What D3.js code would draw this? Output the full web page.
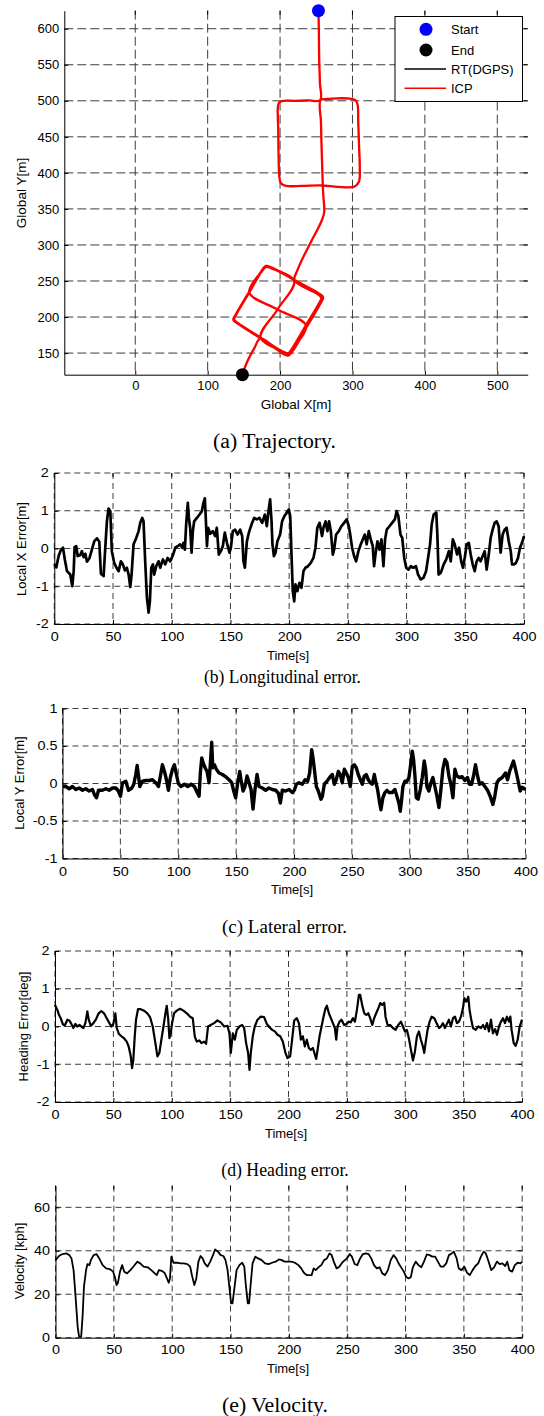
<!DOCTYPE html>
<html><head><meta charset="utf-8">
<script src="https://cdn.jsdelivr.net/npm/d3@7"></script>
<style>body{margin:0;background:#fff}svg{display:block}</style>
</head><body>
<svg id="chart" width="544" height="1416"></svg>
<script>
// ---------------- DATA ----------------
// (a) trajectory [Global X, Global Y] in metres
const trajectory = [
[253,625],[253.5,600],[254,560],[255,525],[255.5,501],
[240,500.5],[220,500],[205,500],[199,498],[197,492],
[197.5,460],[198,420],[199,395],[201,386],[208,382],
[230,382],[258,382.5],[275,381],[290,380],[303,381],[309,388],
[310,410],[309,440],[308,470],[307,495],[304,501],[297,503],
[280,503.5],[265,502.5],[256,501],
[256.5,470],[257.5,430],[258.5,400],[259,382],[260,365],[261,346],
[258,335],[251,320],[244,307],[237,293],[230,279],[224,265],[220,251],
[251,232.4],[257,226.5],[254.2,219.9],[235,187.5],[215.8,155.1],[211,149.5],[203.4,151.9],[173,171.5],[142.6,191.1],[136.5,196.5],[139.5,203.6],[157.5,234],[175.5,264.4],[181,269.5],[187.9,267.6],[219.5,250],
[196.5,210.5],[173,171.5],
[203,152.5],[211.5,150],[216.5,155.5],[236,188],
[196.5,210.5],[157.5,234],
[176,265],[181.5,270.5],[188.5,268.5],[220,251],[252,233.5],[258.5,227],[255.5,219.5],[236.5,187.5],[217,154],[211.5,148],[203,150.5],[173,170.5],[142,190.5],[135.5,196],[139,204],[157,234.5],[175,265],[180.5,271],[188,268.5],[220.5,251],
[253,233],[259.5,227.5],[256,219],[237,186.5],[217.5,153],[211,146.5],[202.5,150],[173,170.5],
[165,158],[156,141],[148,121]
];
const startPoint = [253, 625];
const endPoint = [148, 120];
const legendLabels = ["Start", "End", "RT(DGPS)", "ICP"];
const trajXTicks = [0, 100, 200, 300, 400, 500];
const trajYTicks = [150, 200, 250, 300, 350, 400, 450, 500, 550, 600];

// (b) longitudinal error [time s, error m]
const longitudinalError = [
[0,-0.42],[1.7,-0.5],[3.7,-0.2],[5.7,-0.03],[7.4,0.02],[9,-0.3],[10.8,-0.6],[13.6,-0.69],[15.3,-1.0],[16.5,-0.6],[17.3,0.04],[18.7,0.06],[19.9,-0.2],[22,-0.18],[23.5,-0.07],[25,-0.23],[26.4,-0.14],[27.8,-0.35],[30,-0.25],[32,-0.03],[34,0.19],[36.3,0.27],[38.3,0.18],[39.7,-0.67],[42,-0.73],[43.4,0.02],[44.8,0.72],[46.2,1.06],[47.7,0.99],[49,-0.07],[51,-0.38],[53.3,-0.53],[54.8,-0.6],[56.7,-0.34],[58.4,-0.42],[60.1,-0.58],[61.8,-0.51],[63.3,-0.69],[64.7,-1.02],[65.8,-0.69],[67.5,0.11],[69.8,0.28],[71.8,0.46],[73.2,0.68],[74.9,0.81],[76,0.72],[77.4,-0.34],[78.9,-1.31],[80.3,-1.7],[81.4,-1.4],[82.6,-0.51],[84,-0.42],[85.1,-0.69],[86.8,-0.47],[88.8,-0.34],[90.2,-0.51],[92.5,-0.29],[94.5,-0.42],[96.5,-0.25],[98.7,-0.34],[101,-0.18],[103,0.02],[105,0.06],[107.2,0.11],[109,0.02],[110,0.15],[111.2,-0.03],[112.3,0.64],[113.7,1.21],[114.6,0.81],[115.7,0.55],[116.9,-0.11],[118,0.46],[119.1,0.72],[121.4,0.81],[123.7,0.9],[125.7,0.99],[127,1.21],[128.2,1.33],[129,0.81],[130,0.06],[131,0.55],[132.8,0.39],[135,0.46],[137,0.33],[138.4,0.55],[140.1,-0.16],[141.8,-0.07],[143.5,0.06],[145.2,0.42],[147,0.15],[149.2,-0.11],[150.4,0.02],[152,0.46],[154,0.5],[156,0.37],[158.3,0.5],[160,0.33],[161.1,-0.34],[162.3,-0.51],[164,0.19],[165.7,0.42],[168,0.64],[170.2,0.81],[172.5,0.77],[174.7,0.81],[177,0.68],[179.3,0.9],[181,0.59],[182.4,0.99],[183.8,1.3],[185,0.72],[185.8,0.11],[187,-0.2],[188.4,-0.11],[190,0.19],[192.3,0.37],[194,0.72],[196,0.86],[198,0.95],[199.7,1.03],[200.9,0.86],[202,-0.16],[203.1,-1.13],[204.3,-1.4],[205.4,-0.95],[207,-1.13],[208.8,-0.91],[210.5,-1.04],[212.2,-0.6],[213.9,-0.51],[216,-0.47],[218.4,-0.38],[220.7,-0.25],[222.4,0.02],[224,0.55],[225.9,0.68],[228,0.33],[229.2,0.55],[231,0.72],[232.6,0.46],[234,0.72],[235.5,0.46],[237.2,-0.16],[238.3,-0.03],[240,0.37],[242.3,0.46],[244.5,0.59],[246.8,0.68],[249,0.77],[250.8,0.59],[252,0.37],[253.6,0.02],[255.3,-0.2],[257,-0.34],[259,-0.07],[261,0.11],[262.7,0.24],[264.4,0.37],[266,0.11],[267.8,0.46],[269.5,0.24],[271.2,0.06],[272.3,-0.47],[273.5,-0.16],[275.2,0.19],[276.9,-0.03],[278.6,0.24],[280.3,-0.47],[281.7,0.24],[283.1,0.5],[285.4,0.59],[287.7,0.68],[290,0.77],[291.6,0.99],[293,0.86],[294.8,0.37],[296.3,0.28],[298,-0.25],[299.7,-0.51],[301.6,-0.56],[303.6,-0.47],[305.8,-0.51],[308,-0.47],[309.8,-0.69],[312,-0.82],[314.3,-0.78],[316.6,-0.6],[318.3,-0.25],[320,0.11],[321.4,0.64],[323.1,0.9],[325.3,0.95],[326.2,0.37],[327.3,-0.69],[329.2,-0.64],[331.6,-0.42],[333.8,-0.29],[336,-0.07],[337.6,-0.34],[339.4,0.24],[341,0.11],[343,-0.16],[344.7,0.02],[346.5,-0.34],[348,-0.51],[349.5,-0.25],[351.2,0.11],[353,0.15],[354.6,-0.16],[356.3,-0.42],[358,-0.6],[359.7,-0.34],[361.4,-0.25],[363,-0.34],[364.8,-0.2],[366.5,-0.07],[368.2,-0.56],[370,-0.16],[371.6,0.28],[373.3,0.5],[375,0.68],[376.7,0.72],[378.4,0.59],[380.1,-0.11],[381.8,0.37],[383.5,0.5],[385.2,0.55],[387,0.19],[388.7,-0.07],[389.8,-0.42],[391.5,-0.42],[393.2,-0.38],[394.9,-0.25],[396.6,0.02],[398.3,0.15],[400,0.33]
];

// (c) lateral error [time s, error m]
const lateralError = [
[0,-0.04],[2.9,-0.04],[5.8,-0.07],[8.6,-0.04],[11.5,-0.08],[14.4,-0.06],[17.3,-0.09],[20.1,-0.07],[23,-0.1],[25.9,-0.08],[27.6,-0.15],[29.4,-0.19],[31.1,-0.09],[34.5,-0.09],[37.4,-0.07],[40.3,-0.09],[43.2,-0.06],[46,-0.06],[48.3,-0.1],[50.1,-0.17],[51.8,0.01],[54.7,0.03],[57,-0.09],[59.9,-0.06],[61.6,-0.01],[63.3,0.12],[64.5,0.24],[65.6,0.11],[66.8,-0.04],[69.1,0.03],[71.9,0.04],[74.8,0.04],[77.7,0.05],[80.6,0.01],[82.9,-0.04],[84.6,0.1],[86.3,0.25],[88.1,0.16],[89.8,0.05],[91.5,-0.09],[93.2,0.08],[95,0.19],[96.7,0.25],[98.4,0.12],[100.1,0],[102.4,-0.04],[105.3,-0.01],[108.2,-0.04],[111.1,-0.01],[114,-0.04],[116.3,-0.12],[118,-0.17],[119.1,0.14],[120.3,0.34],[121.4,0.28],[123.2,0.21],[124.9,0.16],[126.6,0.01],[127.8,0.28],[128.9,0.55],[129.8,0.21],[131.2,0.25],[132.9,0.19],[135.3,0.14],[138.1,0.12],[141,0.09],[143.9,0.05],[146.2,0.01],[147.9,-0.1],[149.6,-0.19],[151.4,0.01],[153.1,0.16],[154.2,0.05],[156,-0.1],[157.7,-0.04],[159.4,0.1],[161.2,0.01],[162.9,-0.08],[164.6,-0.34],[166.3,-0.08],[168.1,0.12],[169.8,-0.04],[172.7,-0.06],[175.5,-0.09],[178.4,-0.06],[181.3,-0.08],[184.2,-0.09],[186.5,-0.13],[188.2,-0.26],[189.9,-0.09],[192.8,-0.1],[195.7,-0.08],[198.6,-0.12],[200.3,-0.09],[202,-0.01],[204.3,0.01],[207.2,-0.01],[209.5,0.05],[211.8,0.03],[213.5,0.14],[215.3,0.45],[216.4,0.34],[217.6,0.19],[219.3,-0.04],[221,-0.1],[223.3,-0.21],[224.5,-0.17],[226.2,-0.01],[228.5,0.03],[230.8,0.08],[233.1,0.12],[234.8,-0.01],[236.5,0.05],[238.3,0.16],[240,0.12],[241.7,0.01],[243.5,0.19],[245.2,0.14],[246.9,0.08],[248.6,-0.04],[250.4,0.23],[252.1,0.25],[253.8,0.21],[255.5,0.12],[257.3,0.05],[259,-0.01],[260.7,0.1],[262.4,0.12],[264.2,0.05],[265.9,0.01],[267.6,-0.01],[269.4,0.12],[270.5,0.03],[272.2,-0.08],[274,-0.26],[275.1,-0.35],[276.8,-0.19],[278.6,-0.12],[280.3,-0.09],[282,-0.12],[284.9,-0.12],[287.2,-0.08],[288.9,-0.17],[290.6,-0.26],[291.8,-0.37],[293,-0.21],[294.1,-0.04],[295.8,0.03],[297.6,0.03],[299.3,0.08],[301,0.28],[302.2,0.43],[303.3,0.32],[304.5,0.1],[305.6,-0.19],[307.3,-0.21],[309.1,-0.08],[310.8,0.08],[312.5,0.3],[313.7,0.19],[314.8,-0.04],[316.5,-0.1],[318.3,0.01],[320,0.08],[321.7,-0.04],[323.5,-0.17],[325.2,-0.32],[326.9,-0.08],[328.6,0.19],[330.4,0.32],[332.1,0.28],[333.8,0.1],[335.5,-0.01],[337.3,-0.19],[339,0.19],[340.7,0.1],[343,0.08],[345.3,0.09],[347.6,0.04],[349.9,0.08],[351.7,-0.01],[353.4,-0.01],[355.1,0.1],[356.8,0.25],[358.6,0.1],[360.3,-0.01],[362.6,0.01],[364.9,-0.04],[367.2,-0.09],[369.5,-0.17],[371.8,-0.28],[373.5,-0.17],[375.3,0.01],[377,0.05],[379.9,0.08],[382.7,0.14],[384.5,0.05],[386.2,0.16],[387.9,0.23],[389.6,0.3],[391.4,0.19],[393.7,0.03],[395.4,-0.1],[397.1,-0.05],[400,-0.08]
];

// (d) heading error [time s, error deg]
const headingError = [
[0,0.57],[2,0.44],[3.4,0.31],[4.9,0.22],[6.6,0.07],[8.3,0.02],[10.6,0.18],[12.3,0.16],[14,0.07],[15.7,-0.04],[17.4,0.07],[19.1,0],[20.9,0.04],[22.6,0],[24.3,-0.04],[26,0.09],[27.7,0.4],[28.9,0.18],[30.6,0.02],[32.9,0.09],[35.1,0.19],[37.4,0.35],[39.7,0.41],[42,0.35],[44.3,0.22],[46.6,0.09],[48.3,0],[50,0.07],[51.7,0.35],[52.9,-0.04],[54.6,-0.19],[56.9,-0.26],[59.1,-0.31],[61.4,-0.4],[63.1,-0.53],[64.9,-0.79],[66,-1.1],[67.1,-0.88],[68.3,-0.26],[69.4,0.18],[71.1,0.46],[73.4,0.46],[76.3,0.42],[79.1,0.35],[81.4,0.25],[83.7,0],[86,-0.44],[87.7,-0.79],[89.4,-0.7],[91.1,-0.35],[92.9,0],[94.6,0.35],[95.7,0.55],[96.9,0.22],[98,-0.31],[99.1,-0.18],[100.3,0.09],[102,0.35],[104.3,0.42],[107.1,0.47],[110,0.42],[112.9,0.35],[115.7,0.26],[118,0.22],[119.7,-0.26],[121.4,-0.4],[123.7,-0.37],[125.4,-0.44],[127.7,-0.4],[129.4,-0.46],[131.1,0],[133.4,0.04],[136.3,0.09],[139.1,0.16],[142,0.11],[144.9,0],[147.7,0.02],[149.4,-0.18],[150.6,-0.7],[152.3,-0.18],[154,-0.35],[155.7,-0.09],[158,0],[160.3,0.04],[162,-0.04],[163.7,-0.44],[165.4,-0.7],[166.6,-1.15],[167.7,-0.7],[169.4,-0.26],[171.1,0],[173.4,0.18],[176.3,0.26],[179.1,0.25],[181.4,0.07],[183.7,-0.02],[186,-0.09],[188.3,-0.13],[190.6,-0.22],[192.9,-0.26],[195.1,-0.4],[197.4,-0.7],[199.1,-0.84],[201.4,-0.79],[203.1,-0.35],[204.9,0.16],[207.1,0.22],[208.9,0.09],[210.6,-0.35],[212.3,-0.26],[214,-0.53],[215.7,-0.35],[217.4,-0.57],[219.1,-0.62],[220.9,-0.57],[222.6,-0.75],[223.7,-0.86],[224.9,-0.62],[226.6,-0.26],[228.3,0],[230,0.26],[231.7,0.48],[232.9,0.55],[234.6,0.35],[236.3,0.22],[238,0.09],[239.7,-0.04],[240.9,-0.35],[242,0],[243.7,0.13],[245.4,0.18],[247.7,0.04],[250,0.07],[251.7,0.13],[253.4,0.11],[255.1,0.22],[256.9,0.13],[258.6,0.44],[260.3,0.84],[261.4,0.84],[263.1,0.57],[264.9,0.35],[266.6,0.31],[268.3,0.35],[270,0.22],[271.7,0.04],[273.4,0.22],[275.1,0.35],[276.9,0.48],[278.6,0.62],[280.3,0.57],[282,0.63],[283.1,0.26],[284.9,0.04],[287.1,0.04],[289.4,-0.04],[291.7,-0.09],[294,0.04],[296.3,0.13],[298,0],[299.7,-0.13],[301.4,-0.09],[303.1,-0.31],[304.9,-0.62],[306.6,-0.9],[308.3,-0.66],[310,-0.26],[311.7,-0.13],[313.4,-0.35],[315.1,-0.53],[316.3,-0.7],[317.4,-0.44],[319.1,-0.09],[320.9,0.13],[322.6,0.26],[324.9,0.22],[327.1,0.07],[328.9,-0.04],[330.6,0],[332.3,0.09],[334,-0.04],[335.7,0.07],[337.4,0.18],[339.1,0],[340.9,0.22],[342.6,0.26],[344.3,0.09],[346,0.13],[347.7,0.26],[349.4,0.48],[350.6,0.75],[352.3,0.66],[354,0.79],[355.1,0.44],[356.3,0.22],[358,-0.04],[360.3,-0.09],[362.6,0],[364.9,-0.04],[366.6,0.04],[368.3,-0.07],[370,0.09],[371.7,-0.13],[373.4,0.18],[375.1,-0.18],[376.9,-0.07],[378.6,-0.22],[380.3,0],[382,0.13],[383.7,0.22],[385.4,0.09],[387.1,0.26],[388.9,0.13],[390,0.26],[391.1,-0.09],[392.9,-0.44],[394.6,-0.51],[396.3,-0.35],[398,0],[400,0.18]
];

// (e) velocity [time s, kph]
const velocity = [
[0,35.7],[3,37.6],[6,38.5],[9.5,38.8],[11.9,38],[13.7,36.5],[15.5,31.1],[17.2,18.9],[19,5],[20.2,0.5],[22,0.5],[23.2,9.7],[24.4,23.5],[26.2,31.1],[27.4,33.9],[29.1,33.4],[30.3,35.7],[32.7,38],[35.1,38.5],[37.5,36.5],[40.4,33.4],[43.4,31.9],[46.4,31.6],[49.4,30.4],[51.2,27.3],[52.3,24.2],[53.5,25.3],[55.3,30.4],[57.1,33.4],[58.9,30.4],[61.3,29.6],[64.2,31.1],[67.2,33],[70.2,35],[72.6,34.2],[75.5,32.7],[79.1,32.4],[82.1,31.1],[85.1,29.6],[86.8,28.8],[88.6,31.1],[91,30.8],[93.4,29.9],[95.2,27.8],[97,25.3],[98.1,27.3],[99.3,37.3],[101.1,34.5],[104.1,34.5],[107.1,34.2],[110,34.2],[113,33.9],[115.4,32.7],[117.2,28.1],[119,24.2],[120.7,27.3],[122.5,35],[124.3,37.6],[126.1,36.5],[127.9,34.2],[130.3,32.7],[132.6,35],[135,38],[136.8,40.6],[139.2,39.6],[141.6,38],[143.9,37.6],[145.7,35.7],[147.5,31.1],[149.3,21.9],[150.5,15.8],[151.7,15.8],[153.5,23.5],[155.2,31.1],[157.6,33.4],[160,34.5],[161.8,32.7],[163,25],[164.8,15.8],[165.9,15.8],[167.1,23.5],[168.9,34.2],[171.3,37.3],[173.7,36.5],[176.7,35.7],[179.6,34.2],[182.6,33.9],[185.6,34.5],[188.6,35],[191.5,36],[193.9,35.7],[196.3,35],[199.3,35],[202.2,35],[205.2,34.5],[208.2,33.4],[210.6,31.9],[212.9,29.9],[215.3,28.8],[217.7,28.8],[219.5,28.8],[221.3,31.9],[223,31.1],[225.4,32.4],[227.8,33.4],[230.2,35.7],[232.6,36.5],[234.9,38.8],[236.7,38],[238.5,35],[240.9,31.9],[243.3,32.7],[245.6,34.5],[248,35.7],[249.8,36.5],[252.2,38.5],[254,37.3],[256.4,33.9],[258.7,33.4],[261.1,36.5],[263.5,38.5],[265.9,38.8],[268.3,38.5],[270.6,36.5],[273,33.4],[275.4,31.9],[277.8,32.4],[280.1,29.6],[282.5,28.8],[284.9,31.1],[287.3,35.7],[289.7,38],[292,36.5],[294.4,33.9],[296.8,31.9],[298.6,30.4],[300.4,28.1],[302.7,27.3],[304.5,27.8],[306.3,32.4],[308.7,35],[311.1,33.4],[313.5,32.4],[315.8,35],[318.2,38.3],[320.6,38],[323,37.3],[325.4,37.3],[327.7,35],[330.1,32.7],[332.5,32.7],[334.9,34.2],[337.2,38],[339.6,38.8],[341.4,39.6],[343.8,36.5],[345.6,31.9],[348,31.1],[350.4,32.7],[352.7,29.9],[355.1,28.8],[357.5,31.1],[359.9,33],[362.3,34.2],[364.6,37.3],[367,39.6],[368.8,38.8],[371.2,35],[373.5,31.1],[375.9,32.4],[378.3,35],[380.7,33.9],[383,34.2],[385.4,33],[387.2,35],[389,31.1],[391.4,30.4],[393.7,33.4],[396.1,34.5],[398.5,34.2],[400,35]
];

const timeTicks = [0, 50, 100, 150, 200, 250, 300, 350, 400];
const errTicks2 = [-2, -1, 0, 1, 2];
const errTicks1 = [-1, -0.5, 0, 0.5, 1];
const velTicks = [0, 20, 40, 60];
const captions = ["(a) Trajectory.", "(b) Longitudinal error.", "(c) Lateral error.", "(d) Heading error.", "(e) Velocity."];

// ---------------- DRAWING ----------------
const SANS = '"Liberation Sans", Arial, Helvetica, sans-serif';
const SERIF = '"Liberation Serif", "Times New Roman", serif';
const svg = d3.select("#chart");

function panel(o) {
  const g = svg.append("g");
  const x = d3.scaleLinear().domain(o.xDomain).range([o.left, o.right]);
  const y = d3.scaleLinear().domain(o.yDomain).range([o.bottom, o.top]);
  const grid = g.append("g").attr("stroke", "#3c3c3c").attr("stroke-width", 1)
    .attr("stroke-dasharray", o.dash).attr("fill", "none");
  grid.selectAll("line.v").data(o.xTicks).join("line").attr("class", "v")
    .attr("x1", d => x(d)).attr("x2", d => x(d)).attr("y1", o.top).attr("y2", o.bottom);
  grid.selectAll("line.h").data(o.yTicks).join("line").attr("class", "h")
    .attr("x1", o.left).attr("x2", o.right).attr("y1", d => y(d)).attr("y2", d => y(d));
  const tk = g.append("g").attr("stroke", "#000").attr("stroke-width", 1);
  tk.selectAll("line.t").data(o.xTicks).join("line").attr("class", "t")
    .attr("x1", d => x(d)).attr("x2", d => x(d)).attr("y1", o.top).attr("y2", o.top + 4);
  tk.selectAll("line.r").data(o.yTicks).join("line").attr("class", "r")
    .attr("x1", o.right).attr("x2", o.right - 4).attr("y1", d => y(d)).attr("y2", d => y(d));
  const ax = g.append("g").attr("transform", `translate(0,${o.bottom})`)
    .call(d3.axisBottom(x).tickValues(o.xTicks).tickSizeInner(-4).tickSizeOuter(0)
      .tickPadding(o.padX).tickFormat(d => String(d)));
  const ay = g.append("g").attr("transform", `translate(${o.left},0)`)
    .call(d3.axisLeft(y).tickValues(o.yTicks).tickSizeInner(-4).tickSizeOuter(0)
      .tickPadding(o.padY).tickFormat(d => String(d)));
  [ax, ay].forEach(a => {
    a.attr("font-family", SANS).attr("font-size", o.fs);
    a.select(".domain").attr("stroke", "#000").attr("stroke-width", 1);
    a.selectAll(".tick line").attr("stroke", "#000");
    a.selectAll("text").attr("fill", "#000");
  });
  const sx = o.stretch || 1;
  if (sx !== 1) {
    ax.selectAll(".tick text").attr("transform", `scale(${sx},1)`);
    ay.selectAll(".tick text").attr("x", -o.padY / sx).attr("transform", `scale(${sx},1)`);
  }
  g.append("text").attr("x", o.xLabelX).attr("y", o.xLabelY)
    .attr("text-anchor", "middle").attr("dominant-baseline", "central")
    .attr("font-family", SANS).attr("font-size", o.lfs).text(o.xLabel);
  g.append("text").attr("transform", `translate(${o.yLabelX},${o.yLabelY}) rotate(-90)`)
    .attr("text-anchor", "middle").attr("dominant-baseline", "central")
    .attr("font-family", SANS).attr("font-size", o.lfs).text(o.yLabel);
  g.append("text").attr("x", o.capX).attr("y", o.capY)
    .attr("text-anchor", "middle").attr("dominant-baseline", "central")
    .attr("font-family", SERIF).attr("font-size", o.capFs)
    .attr("textLength", o.capW).attr("lengthAdjust", "spacingAndGlyphs").text(o.caption);
  return { g, x, y };
}

// ----- (a) trajectory -----
const A = panel({
  left: 64.3, right: 527.7, top: 10.7, bottom: 374.7,
  xDomain: [-98, 542], yDomain: [120, 625],
  xTicks: trajXTicks, yTicks: trajYTicks, dash: "9,4", fs: 13, lfs: 13.5, padX: 6.5, padY: 5,
  xLabel: "Global X[m]", xLabelX: 296, xLabelY: 404,
  yLabel: "Global Y[m]", yLabelX: 21, yLabelY: 193,
  caption: captions[0], capX: 274.5, capY: 441, capFs: 20, capW: 123
});
const trajLine = d3.line().x(d => A.x(d[0])).y(d => A.y(d[1])).curve(d3.curveCatmullRom.alpha(0.5));
A.g.append("path").datum(trajectory).attr("d", trajLine)
  .attr("fill", "none").attr("stroke", "#000").attr("stroke-width", 1);
A.g.append("path").datum(trajectory).attr("d", trajLine)
  .attr("fill", "none").attr("stroke", "#f00").attr("stroke-width", 2.3)
  .attr("stroke-linejoin", "round");
A.g.append("circle").attr("cx", A.x(startPoint[0])).attr("cy", A.y(startPoint[1])).attr("r", 6.5).attr("fill", "#0000ff");
A.g.append("circle").attr("cx", A.x(endPoint[0])).attr("cy", A.y(endPoint[1])).attr("r", 6.5).attr("fill", "#000");

// legend
const lg = A.g.append("g");
lg.append("rect").attr("x", 395).attr("y", 16.5).attr("width", 127.5).attr("height", 85)
  .attr("fill", "#fff").attr("stroke", "#000").attr("stroke-width", 1);
const rowY = [29.3, 50, 69, 88.3];
lg.append("circle").attr("cx", 426).attr("cy", rowY[0]).attr("r", 6.5).attr("fill", "#0000ff");
lg.append("circle").attr("cx", 426).attr("cy", rowY[1]).attr("r", 6.5).attr("fill", "#000");
lg.append("line").attr("x1", 404.5).attr("x2", 446).attr("y1", rowY[2]).attr("y2", rowY[2]).attr("stroke", "#000").attr("stroke-width", 1.5);
lg.append("line").attr("x1", 404.5).attr("x2", 446).attr("y1", rowY[3]).attr("y2", rowY[3]).attr("stroke", "#f00").attr("stroke-width", 1.5);
lg.selectAll("text").data(legendLabels).join("text")
  .attr("x", 451).attr("y", (d, i) => rowY[i]).attr("dominant-baseline", "central")
  .attr("font-family", SANS).attr("font-size", 13).attr("fill", "#000").text(d => d);

// ----- time series panels -----
function series(P, data, w) {
  const line = d3.line().x(d => P.x(d[0])).y(d => P.y(d[1]));
  P.g.append("path").datum(data).attr("d", line).attr("fill", "none")
    .attr("stroke", "#000").attr("stroke-width", w).attr("stroke-linejoin", "round");
}

const B = panel({
  left: 54.3, right: 524, top: 473, bottom: 624,
  xDomain: [0, 400], yDomain: [-2, 2], xTicks: timeTicks, yTicks: errTicks2,
  dash: "6,4", fs: 12, lfs: 13, stretch: 1.2, padX: 8, padY: 5.5,
  xLabel: "Time[s]", xLabelX: 288, xLabelY: 655,
  yLabel: "Local X Error[m]", yLabelX: 21, yLabelY: 549,
  caption: captions[1], capX: 282.5, capY: 676, capFs: 19, capW: 157
});
series(B, longitudinalError, 2.7);

const C = panel({
  left: 62.5, right: 525.5, top: 708.5, bottom: 858.5,
  xDomain: [0, 400], yDomain: [-1, 1], xTicks: timeTicks, yTicks: errTicks1,
  dash: "6,4", fs: 12, lfs: 13, stretch: 1.2, padX: 9, padY: 5,
  xLabel: "Time[s]", xLabelX: 292, xLabelY: 889,
  yLabel: "Local Y Error[m]", yLabelX: 19, yLabelY: 783,
  caption: captions[2], capX: 284.5, capY: 926, capFs: 19, capW: 125
});
series(C, lateralError, 3.4);

const D = panel({
  left: 55, right: 522, top: 951, bottom: 1102,
  xDomain: [0, 400], yDomain: [-2, 2], xTicks: timeTicks, yTicks: errTicks2,
  dash: "6,4", fs: 12, lfs: 13, stretch: 1.2, padX: 8, padY: 5.5,
  xLabel: "Time[s]", xLabelX: 286, xLabelY: 1133,
  yLabel: "Heading Error[deg]", yLabelX: 23.5, yLabelY: 1026.5,
  caption: captions[3], capX: 285, capY: 1169, capFs: 19, capW: 127.5
});
series(D, headingError, 2.2);

const E = panel({
  left: 55.5, right: 522.2, top: 1185.6, bottom: 1337.7,
  xDomain: [0, 400], yDomain: [0, 70], xTicks: timeTicks, yTicks: velTicks,
  dash: "6,4", fs: 12, lfs: 13, stretch: 1.2, padX: 7.5, padY: 5.5,
  xLabel: "Time[s]", xLabelX: 288, xLabelY: 1368,
  yLabel: "Velocity [kph]", yLabelX: 19, yLabelY: 1261,
  caption: captions[4], capX: 275, capY: 1405, capFs: 20, capW: 106
});
series(E, velocity, 1.8);
</script>
</body></html>
